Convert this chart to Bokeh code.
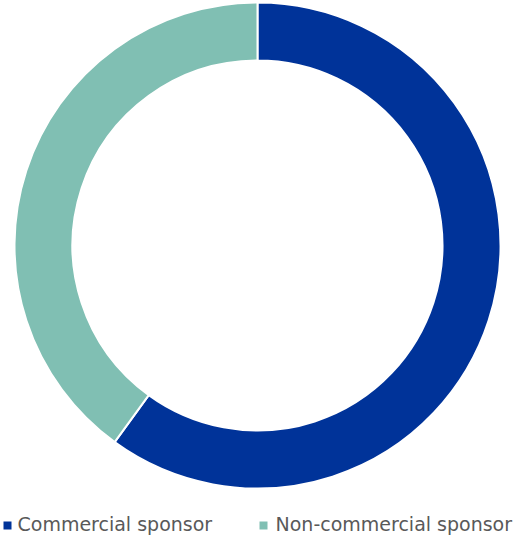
from bokeh.plotting import figure
from bokeh.models import ColumnDataSource, Range1d
from bokeh.core.properties import value
from bokeh.embed import file_html
from bokeh.resources import INLINE
import math

categories = ["Commercial sponsor", "Non-commercial sponsor"]
shares = [60, 40]
colors = ["#003399", "#80BFB3"]

W, H = 515, 535
p = figure(width=W, height=H, output_backend="svg", toolbar_location=None,
           x_range=Range1d(0, W), y_range=Range1d(0, H), min_border=0,
           border_fill_color="white")
p.axis.visible = False
p.grid.visible = False
p.outline_line_color = None
p.background_fill_color = "white"

total = sum(shares)
starts, ends = [], []
cur = math.pi / 2
for s in shares:
    ang = 2 * math.pi * s / total
    ends.append(cur)
    starts.append(cur - ang)
    cur -= ang

src = ColumnDataSource(dict(start=starts, end=ends, color=colors, cat=categories))
cx, cy = 257, 290
p.annular_wedge(x=cx, y=cy, inner_radius=185, outer_radius=243,
                start_angle="start", end_angle="end", fill_color="color",
                line_color="white", line_width=2, source=src,
                inner_radius_units="screen", outer_radius_units="screen")

# legend
lx_sq = [7, 263]
lx_tx = [17, 275]
p.rect(x=lx_sq, y=[10, 10], width=8, height=8, width_units="screen",
       height_units="screen", fill_color=colors, line_color=None)
p.text(x=lx_tx, y=[12, 12], text=categories, text_font=value("DejaVu Sans"),
       text_font_size="19px", text_color="#595959", text_baseline="middle",
       text_align="left")

open("out.html", "w").write(file_html(p, INLINE))
